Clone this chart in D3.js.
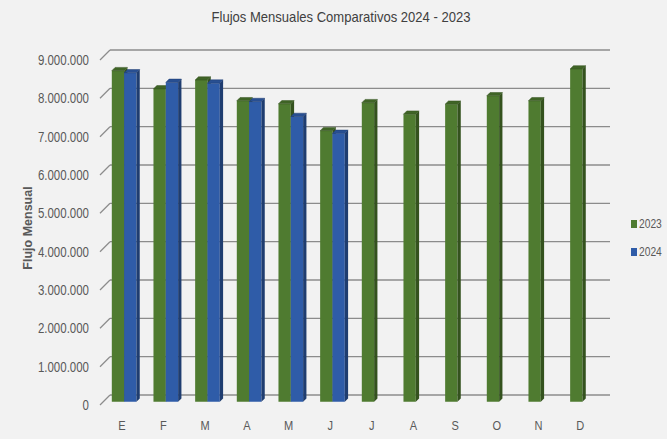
<!DOCTYPE html>
<html>
<head>
<meta charset="utf-8">
<script src="https://cdn.jsdelivr.net/npm/d3@7"></script>
<style>
  body { margin: 0; background: #f2f2f2; }
  svg { display: block; }
</style>
</head>
<body>
<div id="chart"></div>
<script>
// data
const months = ["E", "F", "M", "A", "M", "J", "J", "A", "S", "O", "N", "D"];
const series = ["2023", "2024"];
const values2023 = [8635000, 8160000, 8390000, 7850000, 7770000, 7070000, 7800000, 7500000, 7760000, 7980000, 7850000, 8680000];
const values2024 = [8580000, 8330000, 8310000, 7830000, 7440000, 7000000, null, null, null, null, null, null];
const yTicks = [0, 1000000, 2000000, 3000000, 4000000, 5000000, 6000000, 7000000, 8000000, 9000000];

const W = 667, H = 439;
const wallDepth = 10;   // oblique offset front -> back wall
const barFront = 3.3;   // where the bars start in depth
const barDepth = 3.3;
const FONT = "'Liberation Sans', Arial, sans-serif";

const colors = {
    "2023": { front: "#4f7b30", side: "#34521e", top: "#3f6426" },
    "2024": { front: "#2f5ca8", side: "#1f3d70", top: "#284f92" }
};

// no narrow font installed, so squeeze glyphs horizontally
function condense(sel, factor) {
    sel.each(function () {
        const w = this.getComputedTextLength();
        this.setAttribute("textLength", w * factor);
        this.setAttribute("lengthAdjust", "spacingAndGlyphs");
    });
}

const svg = d3.select("#chart").append("svg")
    .attr("width", W)
    .attr("height", H)
    .style("background", "#f2f2f2");

const x0 = d3.scaleBand()
    .domain(months.map((d, i) => i))
    .range([100, 600]);

const x1 = d3.scaleBand()
    .domain(series)
    .range([0, x0.bandwidth()])
    .paddingOuter(0.69);

const y = d3.scaleLinear()
    .domain([0, 9000000])
    .range([405, 60]);

const fmt = d3.formatLocale({ decimal: ",", thousands: ".", grouping: [3], currency: ["", ""] }).format(",d");

// title
svg.append("text")
    .attr("x", 341)
    .attr("y", 16)
    .attr("text-anchor", "middle")
    .attr("dominant-baseline", "central")
    .attr("font-family", FONT)
    .attr("font-size", 15)
    .attr("fill", "#404040")
    .text("Flujos Mensuales Comparativos 2024 - 2023")
    .call(condense, 0.87);

// back wall gridlines + diagonal ticks
const grid = svg.append("g").attr("stroke", "#8c8c8c").attr("stroke-width", 1.3);
grid.selectAll("line.grid")
    .data(yTicks)
    .enter().append("line")
    .attr("class", "grid")
    .attr("x1", 100 + wallDepth)
    .attr("x2", 600 + wallDepth)
    .attr("y1", d => y(d) - wallDepth)
    .attr("y2", d => y(d) - wallDepth);
grid.selectAll("line.diag")
    .data(yTicks)
    .enter().append("line")
    .attr("class", "diag")
    .attr("x1", 100)
    .attr("x2", 100 + wallDepth)
    .attr("y1", d => y(d))
    .attr("y2", d => y(d) - wallDepth);

// y tick labels
svg.append("g")
    .attr("font-family", FONT)
    .attr("font-size", 14)
    .attr("fill", "#595959")
    .attr("text-anchor", "end")
    .selectAll("text")
    .data(yTicks)
    .enter().append("text")
    .attr("x", 89)
    .attr("y", d => y(d))
    .attr("dominant-baseline", "central")
    .text(d => fmt(d))
    .call(condense, 0.82);

// y axis title
svg.append("text")
    .attr("transform", "translate(28,228) rotate(-90)")
    .attr("text-anchor", "middle")
    .attr("dominant-baseline", "central")
    .attr("font-family", FONT)
    .attr("font-weight", "bold")
    .attr("font-size", 12.5)
    .attr("fill", "#595959")
    .text("Flujo Mensual");

// bars
const barData = [];
months.forEach((m, i) => {
    [["2023", values2023[i]], ["2024", values2024[i]]].forEach(([s, v]) => {
        if (v != null) barData.push({ i, s, v });
    });
});

const bars = svg.append("g").selectAll("g")
    .data(barData)
    .enter().append("g");

const pts = arr => arr.map(p => p.join(",")).join(" ");

function geom(d) {
    const xl = x0(d.i) + x1(d.s) + barFront;
    const w = x1.bandwidth();
    const yb = y(0) - barFront;
    const yt = y(d.v) - barFront;
    return { xl, xr: xl + w, yb, yt, k: barDepth };
}

bars.append("polygon")
    .attr("points", d => {
        const g = geom(d);
        return pts([[g.xl, g.yt], [g.xr, g.yt], [g.xr, g.yb], [g.xl, g.yb]]);
    })
    .attr("fill", d => colors[d.s].front);

bars.append("polygon")
    .attr("points", d => {
        const g = geom(d);
        return pts([[g.xl, g.yt], [g.xr, g.yt], [g.xr + g.k, g.yt - g.k], [g.xl + g.k, g.yt - g.k]]);
    })
    .attr("fill", d => colors[d.s].top)
    .attr("stroke", d => colors[d.s].side)
    .attr("stroke-width", 0.5);

bars.append("polygon")
    .attr("points", d => {
        const g = geom(d);
        return pts([[g.xr, g.yt], [g.xr + g.k, g.yt - g.k], [g.xr + g.k, g.yb - g.k], [g.xr, g.yb]]);
    })
    .attr("fill", d => colors[d.s].side);

// month labels
svg.append("g")
    .attr("font-family", FONT)
    .attr("font-size", 13)
    .attr("fill", "#595959")
    .attr("text-anchor", "middle")
    .selectAll("text")
    .data(months)
    .enter().append("text")
    .attr("x", (d, i) => x0(i) + x0.bandwidth() / 2 + 1)
    .attr("y", 425)
    .attr("dominant-baseline", "central")
    .text(d => d)
    .call(condense, 0.85);

// legend
const legend = svg.append("g")
    .selectAll("g")
    .data(series)
    .enter().append("g")
    .attr("transform", (d, i) => `translate(631,${224 + i * 28})`);
legend.append("rect")
    .attr("x", 0)
    .attr("y", -4)
    .attr("width", 6)
    .attr("height", 8)
    .attr("fill", d => colors[d].front);
legend.append("text")
    .attr("x", 8)
    .attr("y", 0)
    .attr("dominant-baseline", "central")
    .attr("font-family", FONT)
    .attr("font-size", 12.5)
    .attr("fill", "#595959")
    .text(d => d)
    .call(condense, 0.82);
</script>
</body>
</html>
